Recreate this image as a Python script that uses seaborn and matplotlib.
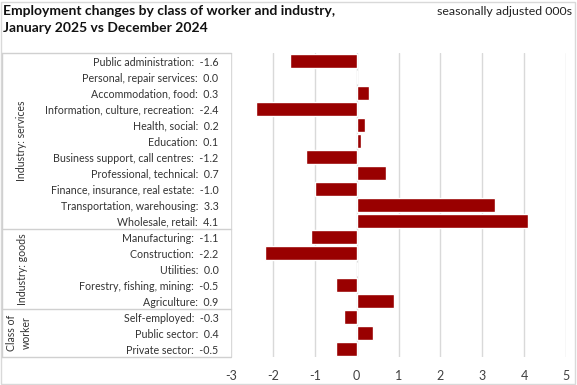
import matplotlib
matplotlib.use("Agg")
import matplotlib.pyplot as plt
import seaborn as sns
from matplotlib.lines import Line2D
from matplotlib.patches import Rectangle

# Data (top to bottom, as in the chart)
categories = ['Public administration', 'Personal, repair services', 'Accommodation, food',
              'Information, culture, recreation', 'Health, social', 'Education',
              'Business support, call centres', 'Professional, technical',
              'Finance, insurance, real estate', 'Transportation, warehousing',
              'Wholesale, retail',
              'Manufacturing', 'Construction', 'Utilities', 'Forestry, fishing, mining',
              'Agriculture',
              'Self-employed', 'Public sector', 'Private sector']
changes = [-1.6, 0.0, 0.3, -2.4, 0.2, 0.1, -1.2, 0.7, -1.0, 3.3, 4.1,
           -1.1, -2.2, 0.0, -0.5, 0.9,
           -0.3, 0.4, -0.5]
groups = ['Industry: services', 'Industry: goods', 'Class of\nworker']
group_sizes = [11, 5, 3]
x_ticks = [-3, -2, -1, 0, 1, 2, 3, 4, 5]

labels = [f'{c}:  {v:.1f}' for c, v in zip(categories, changes)]

sns.set_style('white')
plt.rcParams['font.family'] = ['Lato', 'DejaVu Sans']

W, H = 577, 385
fig = plt.figure(figsize=(W / 100, H / 100), dpi=100)
ax = fig.add_axes([231 / W, 1 - 357 / H, (566 - 231) / W, (357 - 53) / H])

sns.barplot(x=changes, y=labels, orient='h', color='#990000', saturation=1,
            width=0.88, ax=ax, zorder=3)

ax.set_xlim(-3, 5)
ax.set_xticks(x_ticks)
ax.set_xticklabels([str(t) for t in x_ticks])
ax.grid(axis='x', color='#d9d9d9', linewidth=1, zorder=0)
ax.grid(axis='y', visible=False)
ax.set_axisbelow(True)
for s in ax.spines.values():
    s.set_visible(False)
ax.tick_params(axis='x', length=0, pad=9, labelsize=9, labelcolor='#404040')
ax.tick_params(axis='y', length=0, pad=9, labelsize=7.7, labelcolor='#333333')
ax.set_xlabel('')
ax.set_ylabel('')

# Label table lines (figure pixels)
def fline(x0, y0, x1, y1):
    fig.add_artist(Line2D([x0 / W, x1 / W], [1 - y0 / H, 1 - y1 / H],
                          color='#d0d0d0', linewidth=1, transform=fig.transFigure))

fline(2, 53, 231, 53)
fline(2, 357, 231, 357)
fline(2, 53, 2, 357)
row = (357 - 53) / len(categories)
start = 0
for g, n, gx in zip(groups, group_sizes, [22, 22, 19]):
    y0 = 53 + start * row
    y1 = 53 + (start + n) * row
    if start > 0:
        fline(2, y0, 231, y0)
    fig.text(gx / W, 1 - (y0 + y1) / 2 / H, g, rotation=90, ha='center', va='center',
             fontsize=7.6, color='#333333', linespacing=1.5)
    start += n

# Outer border
fig.add_artist(Rectangle((1 / W, 1 / H), (W - 3) / W, (H - 3) / H, fill=False,
                         edgecolor='#d9d9d9', linewidth=1, transform=fig.transFigure))

fig.text(3 / W, 1 - 5 / H, 'Employment changes by class of worker and industry,\nJanuary 2025 vs December 2024',
         ha='left', va='top', fontsize=10, fontweight='bold', color='#111111', linespacing=1.45)
fig.text(572 / W, 1 - 6 / H, 'seasonally adjusted 000s', ha='right', va='top',
         fontsize=8.9, color='#222222')

fig.savefig('out.png', dpi=100)
